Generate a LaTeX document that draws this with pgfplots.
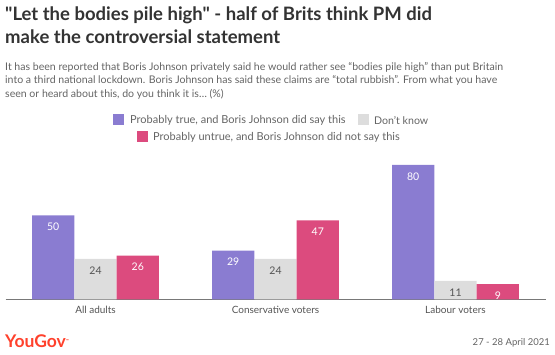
\documentclass[border=0pt]{standalone}
\usepackage{fontspec}
\setmainfont{Lato}[Ligatures=TeXOff]
\usepackage{pgfplots}
\pgfplotsset{compat=1.18}
\definecolor{cpurple}{RGB}{138,124,209}
\definecolor{cgray}{RGB}{221,221,221}
\definecolor{cpink}{RGB}{220,75,126}
\definecolor{ctitle}{RGB}{51,51,51}
\definecolor{csub}{RGB}{100,100,100}
\definecolor{clab}{RGB}{85,85,85}
\definecolor{cyg}{RGB}{255,65,44}
\begin{document}
\begin{tikzpicture}
\useasboundingbox (0,0) rectangle (555pt,354pt);
% title
\node[anchor=base west, inner sep=0, font=\fontsize{18.5}{20}\selectfont\bfseries, text=ctitle] at (5pt,333.3pt) {"Let the bodies pile high" - half of Brits think PM did};
\node[anchor=base west, inner sep=0, font=\fontsize{18.5}{20}\selectfont\bfseries, text=ctitle] at (5pt,310.5pt) {make the controversial statement};
% subtitle
\begin{scope}[every node/.style={anchor=base west, inner sep=0, font=\fontsize{10.55}{12}\selectfont, text=csub}]
\node at (5pt,283.3pt) {It has been reported that Boris Johnson privately said he would rather see “bodies pile high” than put Britain};
\node at (5pt,270pt) {into a third national lockdown. Boris Johnson has said these claims are “total rubbish”. From what you have};
\node at (5pt,256.5pt) {seen or heard about this, do you think it is… (\%)};
\end{scope}
% legend
\fill[cpurple] (113pt,228.5pt) rectangle (124pt,239.5pt);
\node[anchor=west, inner sep=0, font=\fontsize{11}{12}\selectfont, text=csub] at (130pt,234pt) {Probably true, and Boris Johnson did say this};
\fill[cgray] (358pt,228.5pt) rectangle (369pt,239.5pt);
\node[anchor=west, inner sep=0, font=\fontsize{10.6}{12}\selectfont, text=csub] at (374pt,234pt) {Don’t know};
\fill[cpink] (137pt,211.5pt) rectangle (148pt,222.5pt);
\node[anchor=west, inner sep=0, font=\fontsize{11}{12}\selectfont, text=csub] at (153pt,217pt) {Probably untrue, and Boris Johnson did not say this};
\begin{axis}[
  at={(5.5pt,54.7pt)}, anchor=south west,
  scale only axis, width=540pt, height=151.2pt,
  xmin=-0.5, xmax=2.5, ymin=0, ymax=90,
  axis x line=bottom, axis y line=none,
  x axis line style={-, draw={rgb,255:red,120;green,120;blue,120}, line width=1.1pt},
  xtick={0,1,2}, xticklabels={All adults, Conservative voters, Labour voters},
  major tick length=0pt,
  xticklabel style={anchor=base, yshift=-14.5pt, font=\fontsize{10}{12}\selectfont, text=clab},
  ybar=0pt, bar width=42.3pt,
  clip=false,
  /pgf/number format/assume math mode=true,
  nodes near coords,
  nodes near coords style={anchor=center, yshift=-11.5pt, font=\fontsize{10.5}{12}\selectfont},
]
\addplot[fill=cpurple, draw=none, every node near coord/.append style={text=white}] coordinates {(0,50) (1,29) (2,80)};
\addplot[fill=cgray, draw=none, every node near coord/.append style={text=clab}] coordinates {(0,24) (1,24) (2,11)};
\addplot[fill=cpink, draw=none, every node near coord/.append style={text=white}] coordinates {(0,26) (1,47) (2,9)};
\end{axis}
% footer
\node[anchor=west, inner sep=0, font=\fontsize{17.5}{18}\selectfont\bfseries, text=cyg] at (5pt,13.3pt) {YouGov\raisebox{5pt}{\fontsize{4}{4}\selectfont ™}};
\node[anchor=east, inner sep=0, font=\fontsize{9.5}{11}\selectfont, text=csub] at (550pt,11.3pt) {27 - 28 April 2021};
\end{tikzpicture}
\end{document}
